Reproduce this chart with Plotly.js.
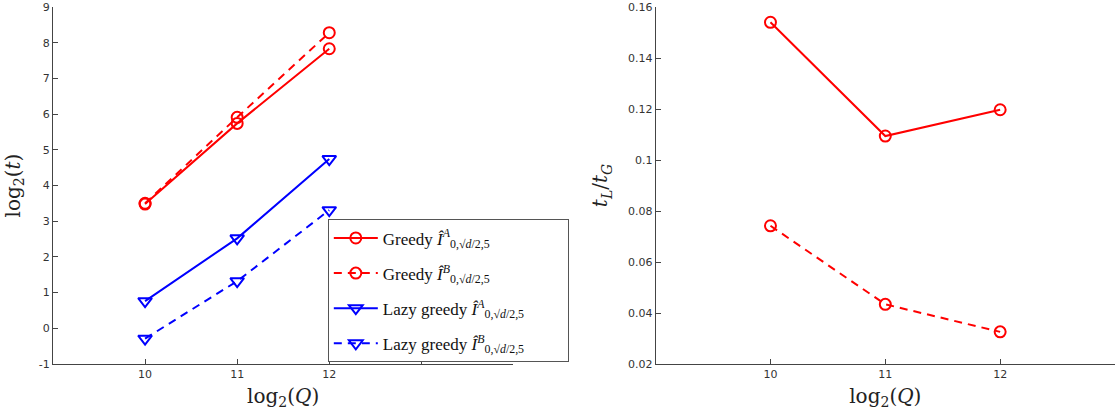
<!DOCTYPE html>
<html>
<head>
<meta charset="utf-8">
<script src="https://cdn.plot.ly/plotly-3.0.1.min.js"></script>
<style>html,body{margin:0;padding:0;background:#fff;}#chart{width:1115px;height:417px;}</style>
</head>
<body>
<div id="chart"></div>
<script>
const logQ = [10, 11, 12];
const greedyA = [3.48, 5.74, 7.83];
const greedyB = [3.50, 5.91, 8.28];
const lazyA = [0.76, 2.52, 4.74];
const lazyB = [-0.29, 1.32, 3.31];
const ratioA = [0.154, 0.1094, 0.1197];
const ratioB = [0.0742, 0.0434, 0.0326];

const leftXTicks = [10, 11, 12, 13, 14];
const leftXText = ['10', '11', '12', '', ''];
const leftYTicks = [-1, 0, 1, 2, 3, 4, 5, 6, 7, 8, 9];
const leftYText = ['-1', '0', '1', '2', '3', '4', '5', '6', '7', '8', '9'];
const rightXTicks = [10, 11, 12, 13];
const rightXText = ['10', '11', '12', ''];
const rightYTicks = [0.02, 0.04, 0.06, 0.08, 0.1, 0.12, 0.14, 0.16];
const rightYText = ['0.02', '0.04', '0.06', '0.08', '0.1', '0.12', '0.14', '0.16'];

const pad = '\u00a0\u00a0\u00a0\u00a0\u00a0\u00a0\u00a0\u00a0';
const names = [
  'Greedy <i>Î</i><sup><i>A</i></sup><sub>0,√<i>d</i>/2,5</sub>' + pad + '\u00a0\u00a0\u00a0\u00a0\u00a0\u00a0\u00a0\u00a0\u00a0',
  'Greedy <i>Î</i><sup><i>B</i></sup><sub>0,√<i>d</i>/2,5</sub>' + pad + '\u00a0\u00a0\u00a0\u00a0\u00a0\u00a0\u00a0\u00a0\u00a0',
  'Lazy greedy <i>Î</i><sup><i>A</i></sup><sub>0,√<i>d</i>/2,5</sub>' + pad,
  'Lazy greedy <i>Î</i><sup><i>B</i></sup><sub>0,√<i>d</i>/2,5</sub>' + pad
];

const RED = '#ff0000', BLUE = '#0000ff';
const circ = {symbol: 'circle-open', size: 11, line: {width: 2}};
const tri = {symbol: 'triangle-down-open', size: 12, line: {width: 2}};

const traces = [
  {x: logQ, y: greedyA, name: names[0], legendgroup: 'g1', mode: 'lines+markers', line: {color: RED, width: 2}, marker: Object.assign({color: RED}, circ), xaxis: 'x', yaxis: 'y'},
  {x: logQ, y: greedyB, name: names[1], legendgroup: 'g2', mode: 'lines+markers', line: {color: RED, width: 2, dash: '8px,6px'}, marker: Object.assign({color: RED}, circ), xaxis: 'x', yaxis: 'y'},
  {x: logQ, y: lazyA, name: names[2], legendgroup: 'g3', mode: 'lines+markers', line: {color: BLUE, width: 2}, marker: Object.assign({color: BLUE}, tri), xaxis: 'x', yaxis: 'y'},
  {x: logQ, y: lazyB, name: names[3], legendgroup: 'g4', mode: 'lines+markers', line: {color: BLUE, width: 2, dash: '8px,6px'}, marker: Object.assign({color: BLUE}, tri), xaxis: 'x', yaxis: 'y'},
  {x: logQ, y: ratioA, mode: 'lines+markers', showlegend: false, line: {color: RED, width: 2}, marker: Object.assign({color: RED}, circ), xaxis: 'x2', yaxis: 'y2'},
  {x: logQ, y: ratioB, mode: 'lines+markers', showlegend: false, line: {color: RED, width: 2, dash: '8px,6px'}, marker: Object.assign({color: RED}, circ), xaxis: 'x2', yaxis: 'y2'}
];

const tickFont = {family: 'DejaVu Sans, sans-serif', size: 11, color: '#333'};
const titleFont = {family: 'DejaVu Serif, Liberation Serif, serif', size: 20, color: '#222'};
const axisBase = {
  showgrid: false, zeroline: false, showline: true, linecolor: '#444', linewidth: 1,
  ticks: 'inside', ticklen: 5, tickcolor: '#444', tickfont: tickFont, mirror: false
};

const layout = {
  width: 1115, height: 417,
  margin: {l: 0, r: 0, t: 7, b: 53},
  paper_bgcolor: '#fff', plot_bgcolor: '#fff',
  showlegend: true,
  legend: {
    x: 0.294, y: 0.405, xanchor: 'left', yanchor: 'top',
    bgcolor: '#fff', bordercolor: '#555', borderwidth: 1,
    font: {family: 'Liberation Serif, DejaVu Serif, serif', size: 17, color: '#111'},
    tracegroupgap: 10, itemwidth: 44
  },
  xaxis: Object.assign({}, axisBase, {domain: [0.0475, 0.4605], range: [9, 14], tickvals: leftXTicks, ticktext: leftXText,
    title: {text: 'log<sub>2</sub>(<i>Q</i>)', font: titleFont, standoff: 8}, anchor: 'y'}),
  yaxis: Object.assign({}, axisBase, {domain: [0, 1], range: [-1, 9], tickvals: leftYTicks, ticktext: leftYText,
    title: {text: 'log<sub>2</sub>(<i>t</i>)', font: titleFont, standoff: 12}, anchor: 'x'}),
  xaxis2: Object.assign({}, axisBase, {domain: [0.588, 1], range: [9, 13], tickvals: rightXTicks, ticktext: rightXText,
    title: {text: 'log<sub>2</sub>(<i>Q</i>)', font: titleFont, standoff: 8}, anchor: 'y2'}),
  yaxis2: Object.assign({}, axisBase, {domain: [0, 1], range: [0.02, 0.16], tickvals: rightYTicks, ticktext: rightYText,
    title: {text: '<i>t</i><sub><i>L</i></sub>/<i>t</i><sub><i>G</i></sub>', font: titleFont, standoff: 14}, anchor: 'x2'})
};

Plotly.newPlot('chart', traces, layout, {displayModeBar: false, staticPlot: true});
</script>
</body>
</html>
